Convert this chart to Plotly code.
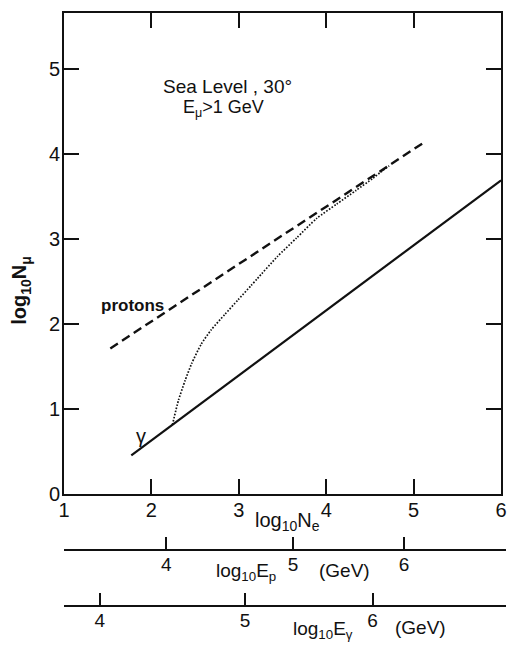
import plotly.graph_objects as go

# ---------------- data ----------------
# protons (dashed): log10 Ne, log10 N_mu
protons_x = [1.53, 5.11]
protons_y = [1.71, 4.13]

# gamma (solid)
gamma_x = [1.77, 6.00]
gamma_y = [0.45, 3.69]

# dotted transition curve
dotted_x = [2.24, 2.31, 2.385, 2.46, 2.57, 2.685, 2.84, 2.99, 3.14, 3.21, 3.44, 3.66, 3.89, 4.12, 4.34, 4.53, 4.64, 4.72]
dotted_y = [0.81, 1.10, 1.33, 1.53, 1.76, 1.93, 2.11, 2.28, 2.45, 2.53, 2.79, 3.01, 3.24, 3.41, 3.57, 3.71, 3.80, 3.86]

# main axes tick labels
x_ticks = [1, 2, 3, 4, 5, 6]
y_ticks = [0, 1, 2, 3, 4, 5]

# secondary scales: label values and their position on the log10 Ne scale
ep_ticks = [4, 5, 6]
ep_ticks_ne = [2.17, 3.62, 4.89]
eg_ticks = [4, 5, 6]
eg_ticks_ne = [1.41, 3.07, 4.53]

# ---------------- layout helpers ----------------
W, H = 512, 651
ML, MR, MT, MB = 64, 0, 13, 0
PW = W - ML - MR
PH = H - MT - MB


def px(X):
    return (X - ML) / PW


def py(Y):
    return (H - MB - Y) / PH


X_RIGHT = 507      # right edge of main frame (px)
Y_BOTTOM = 502     # bottom of main frame (px)
x_range = [1, 6]
ppu = (X_RIGHT - ML) / (x_range[1] - x_range[0])
sec_range = [x_range[0], x_range[0] + PW / ppu]

FONT = "Liberation Sans, Arial, sans-serif"
ink = "#111111"

fig = go.Figure()

fig.add_trace(go.Scatter(x=protons_x, y=protons_y, mode="lines",
                         line=dict(color=ink, width=2.4, dash="9px,5px"),
                         showlegend=False, hoverinfo="skip"))
fig.add_trace(go.Scatter(x=gamma_x, y=gamma_y, mode="lines",
                         line=dict(color=ink, width=2.2),
                         showlegend=False, hoverinfo="skip"))
fig.add_trace(go.Scatter(x=dotted_x, y=dotted_y, mode="lines",
                         line=dict(color=ink, width=1.7, dash="1.6px,1.6px",
                                   shape="spline", smoothing=0.6),
                         showlegend=False, hoverinfo="skip"))
# invisible traces to bind secondary axes
fig.add_trace(go.Scatter(x=[ep_ticks_ne[0]], y=[-10], xaxis="x2", yaxis="y",
                         mode="markers", marker=dict(opacity=0), showlegend=False, hoverinfo="skip"))
fig.add_trace(go.Scatter(x=[eg_ticks_ne[0]], y=[-10], xaxis="x3", yaxis="y",
                         mode="markers", marker=dict(opacity=0), showlegend=False, hoverinfo="skip"))

tickfont = dict(family=FONT, size=20, color=ink)

fig.update_layout(
    width=W, height=H, autosize=False,
    margin=dict(l=ML, r=MR, t=MT, b=MB, pad=0),
    paper_bgcolor="white", plot_bgcolor="rgba(0,0,0,0)",
    xaxis=dict(domain=[0, px(X_RIGHT)], range=x_range, tickvals=x_ticks,
               ticks="inside", ticklen=15, tickwidth=1.5, tickcolor=ink,
               showline=True, linewidth=2, linecolor=ink, mirror="ticks",
               showgrid=False, zeroline=False, tickfont=tickfont,
               ticklabeloverflow="allow", ticklabelstandoff=-3, anchor="y"),
    yaxis=dict(domain=[py(Y_BOTTOM), 1], range=[0, 5.66], tickvals=y_ticks,
               ticks="inside", ticklen=15, tickwidth=1.5, tickcolor=ink,
               showline=True, linewidth=2, linecolor=ink, mirror="ticks",
               showgrid=False, zeroline=False, tickfont=tickfont,
               ticklabeloverflow="allow", ticklabelstandoff=-2, anchor="x"),
    xaxis2=dict(domain=[0, 1], range=sec_range, anchor="free", position=py(559),
                tickvals=ep_ticks_ne, ticktext=[str(v) for v in ep_ticks],
                ticks="inside", ticklen=12, tickwidth=1.5, tickcolor=ink,
                showline=True, linewidth=2, linecolor=ink, ticklabelstandoff=-2,
                showgrid=False, zeroline=False, tickfont=dict(family=FONT, size=19, color=ink)),
    xaxis3=dict(domain=[0, 1], range=sec_range, anchor="free", position=py(616),
                tickvals=eg_ticks_ne, ticktext=[str(v) for v in eg_ticks],
                ticks="inside", ticklen=12, tickwidth=1.5, tickcolor=ink,
                showline=True, linewidth=2, linecolor=ink, ticklabelstandoff=-2,
                showgrid=False, zeroline=False, tickfont=dict(family=FONT, size=19, color=ink)),
)


def ann(text, X, Y, size=19, bold=False, angle=0, xanchor="center", yanchor="middle"):
    if bold:
        text = "<b>" + text + "</b>"
    fig.add_annotation(text=text, x=px(X), y=py(Y), xref="paper", yref="paper",
                       showarrow=False, textangle=angle, xanchor=xanchor, yanchor=yanchor,
                       font=dict(family=FONT, size=size, color=ink))


ann("Sea Level , 30°", 230, 88, size=19)
ann("E<sub>μ</sub>&gt;1 GeV", 226, 110, size=18)
ann("protons", 133, 311, size=17, bold=True)
ann("γ", 142, 443, size=20)
ann("log<sub>10</sub>N<sub>μ</sub>", 20, 295, size=20, bold=True, angle=-90)
ann("log<sub>10</sub>N<sub>e</sub>", 291, 530, size=20)
ann("log<sub>10</sub>E<sub>p</sub>", 248, 582, size=19)
ann("(GeV)", 348, 580, size=19)
ann("log<sub>10</sub>E<sub>γ</sub>", 327, 641, size=19)
ann("(GeV)", 425, 638, size=19)

fig.write_html("out.html")
